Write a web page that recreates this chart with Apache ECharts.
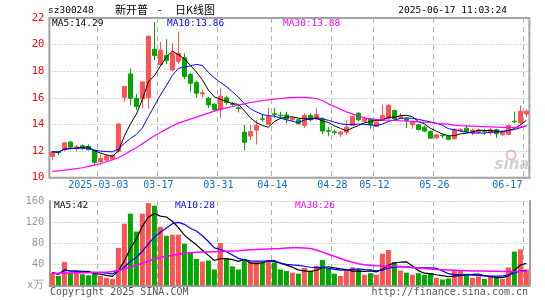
<!DOCTYPE html>
<html><head><meta charset="utf-8">
<script src="https://cdn.jsdelivr.net/npm/echarts/dist/echarts.min.js"></script>
<style>html,body{margin:0;padding:0;background:#fff}#c{width:545px;height:300px}</style>
</head><body><div id="c"></div>
<script>
const dates = ['2025-02-19','2025-02-20','2025-02-21','2025-02-24','2025-02-25','2025-02-26','2025-02-27','2025-02-28',
'2025-03-03','2025-03-04','2025-03-05','2025-03-06','2025-03-07','2025-03-10','2025-03-11','2025-03-12','2025-03-13','2025-03-14',
'2025-03-17','2025-03-18','2025-03-19','2025-03-20','2025-03-21','2025-03-24','2025-03-25','2025-03-26','2025-03-27','2025-03-28',
'2025-03-31','2025-04-01','2025-04-02','2025-04-03','2025-04-07','2025-04-08','2025-04-09','2025-04-10','2025-04-11',
'2025-04-14','2025-04-15','2025-04-16','2025-04-17','2025-04-18','2025-04-21','2025-04-22','2025-04-23','2025-04-24','2025-04-25',
'2025-04-28','2025-04-29','2025-04-30','2025-05-06','2025-05-07','2025-05-08','2025-05-09',
'2025-05-12','2025-05-13','2025-05-14','2025-05-15','2025-05-16','2025-05-19','2025-05-20','2025-05-21','2025-05-22','2025-05-23',
'2025-05-26','2025-05-27','2025-05-28','2025-05-29','2025-05-30','2025-06-03','2025-06-04','2025-06-05','2025-06-06',
'2025-06-09','2025-06-10','2025-06-11','2025-06-12','2025-06-13','2025-06-16','2025-06-17'];
const open  = [11.60,11.95,12.08,12.68,12.21,12.40,12.35,12.05,11.20,11.33,11.40,11.98,16.04,17.80,15.97,15.92,16.00,19.65,18.50,19.20,
18.10,18.75,19.02,17.75,17.15,16.30,15.97,15.52,15.10,16.00,15.55,15.25,13.42,13.13,13.58,14.42,14.02,14.80,14.70,14.72,
14.38,14.35,13.93,14.68,14.42,14.42,13.52,13.45,13.28,13.42,13.93,14.85,14.25,14.42,13.85,14.30,14.45,15.05,14.50,14.42,
13.98,13.98,13.80,13.47,13.00,13.20,13.12,12.92,13.55,13.72,13.38,13.42,13.52,13.38,13.60,13.22,13.25,14.25,14.12,14.78];
const close = [11.95,11.88,12.62,12.29,12.33,12.25,12.10,11.15,11.45,11.63,11.70,14.04,16.85,15.97,15.34,17.20,20.64,19.17,19.58,18.80,
19.33,19.35,17.60,17.10,16.35,16.38,15.47,15.10,16.12,15.65,15.50,15.20,12.66,13.46,13.91,14.38,14.59,14.75,14.64,14.42,
14.48,14.05,14.68,14.35,14.75,13.50,13.48,13.40,13.42,13.80,14.60,14.35,14.42,13.98,14.18,14.68,15.45,14.42,14.60,14.30,
14.18,13.62,13.50,12.97,13.22,13.15,12.88,13.60,13.62,13.47,13.58,13.58,13.48,13.60,13.30,13.42,13.92,14.20,15.00,15.00];
const low   = [11.35,11.70,12.00,12.13,12.00,12.10,12.05,10.95,10.95,11.25,11.30,11.90,15.71,15.47,15.09,15.20,15.20,18.85,18.35,18.55,
18.00,18.55,17.40,16.47,16.00,16.00,15.25,15.00,14.46,15.47,15.40,14.90,12.08,12.83,12.50,14.20,13.98,14.50,14.40,14.10,
14.20,13.98,13.72,14.22,14.30,13.25,13.10,13.22,13.05,13.22,13.90,14.25,14.12,13.68,13.80,14.28,14.42,14.35,14.40,13.72,
13.68,13.55,13.42,12.92,12.88,12.97,12.85,12.85,13.45,13.42,13.18,13.30,13.22,13.18,12.98,13.18,13.18,14.10,13.98,14.55];
const high  = [12.00,12.02,12.68,12.76,12.45,12.50,12.50,12.10,11.75,11.70,11.72,14.04,16.85,18.20,16.29,17.22,20.64,21.70,20.22,20.40,
20.10,20.98,19.35,17.90,17.28,16.60,16.08,15.60,16.72,16.17,15.70,15.40,13.96,13.96,14.34,14.80,15.26,15.26,14.95,14.95,
14.60,14.42,14.85,14.85,15.22,14.55,13.80,13.60,13.55,14.30,14.62,14.92,14.60,14.50,14.22,15.50,15.50,15.12,14.85,14.50,
14.20,14.05,13.92,13.55,13.25,13.30,13.18,13.72,13.72,13.92,13.68,13.68,13.68,13.72,13.68,13.55,13.98,14.98,15.42,15.12];
const volume = [24,18,44,24,25,21,19,22,18,14,12,71,117,136,102,136,156,151,111,94,96,96,79,63,50,45,47,30,80,51,36,30,
50,45,45,44,48,43,30,27,24,22,33,27,37,48,31,22,18,30,34,30,20,23,20,60,67,44,28,24,20,23,20,23,14,11,13,27,27,22,
14,17,12,17,15,12,34,64,68,30];
const ma30Price = [10.48,10.52,10.57,10.62,10.68,10.75,10.85,10.95,11.05,11.20,11.35,11.50,11.75,12.00,12.25,12.55,12.85,13.15,13.40,13.65,
13.88,14.10,14.25,14.40,14.55,14.70,14.85,15.00,15.15,15.25,15.35,15.45,15.55,15.65,15.72,15.80,15.85,15.90,15.95,16.00,
16.02,16.03,16.03,16.00,15.95,15.80,15.55,15.35,15.15,14.95,14.80,14.62,14.50,14.42,14.38,14.35,14.33,14.30,14.28,14.25,
14.23,14.20,14.18,14.15,14.08,14.05,14.02,13.95,13.92,13.90,13.88,13.86,13.84,13.82,13.80,13.78,13.76,13.78,13.82,13.88];
const ma30Vol = [23,23,23.5,23.5,24,24,24,24.5,25,25,26,28,31,35,38,42,46,50,53,55,57,59,60.5,61.5,62.5,63,63,63.5,64,64.5,
65,65.5,66.5,67.5,68,68.5,69,69.5,70,71,71.5,71.5,71,70,67,63,59,55,51,47,44,41,39,38,37,36.5,36,36,35.5,35,
34,33,32,31,30,29.5,29,28.5,28,27.5,27,27,27,26.5,26.5,26,26,26,26,26.5];
const markDates = ['2025-03-03','2025-03-17','2025-03-31','2025-04-14','2025-04-28','2025-05-12','2025-05-26','2025-06-17'];
const priceAxis = {min: 10, max: 22, interval: 2};
const volAxis = {min: 0, max: 160, interval: 40, unit: 'x万'};
const header = {code: 'sz300248', name: '新开普', dash: '-', kind: '日K线图', stamp: '2025-06-17 11:03:24'};
const priceLegend = ['MA5:14.29', 'MA10:13.86', 'MA30:13.88'];
const volLegend = ['MA5:42', 'MA10:28', 'MA30:26'];
const footer = ['Copyright 2025 SINA.COM', 'http://finance.sina.com.cn'];

function ma(arr, n) {
  return arr.map((_, i) => {
    const s = arr.slice(Math.max(0, i - n + 1), i + 1);
    return +(s.reduce((a, b) => a + b, 0) / s.length).toFixed(3);
  });
}
const UP = '#FF5252', DOWN = '#00A800';
const MONO = 'DejaVu Sans Mono';
const isMark = (i, v) => markDates.indexOf(v) >= 0;
const isMarkIdx = (i) => markDates.indexOf(dates[i]) >= 0;
const kData = dates.map((d, i) => [open[i], close[i], low[i], high[i]]);
const volData = volume.map((v, i) => ({value: v, itemStyle: {color: close[i] >= open[i] ? UP : DOWN}}));
const vsplit = {show: true, interval: (i) => isMarkIdx(i), lineStyle: {color: '#b0b0b0', type: [5, 4], width: 1}};
const hsplit = {show: true, lineStyle: {color: '#b0b0b0', type: [1, 2], width: 1}};
const frame = {color: '#a0a0a0', width: 2};

const chart = echarts.init(document.getElementById('c'), null, {renderer: 'canvas'});
const txt = (x, y, text, color, opts) => Object.assign({type: 'text', x, y, style: Object.assign({text, fill: color, font: '9.5px "' + MONO + '"', textVerticalAlign: 'middle'}, opts || {})});
chart.setOption({
  animation: false,
  grid: [
    {left: 49.4, top: 18, width: 480, height: 159.7, show: true, borderColor: frame.color, borderWidth: frame.width, backgroundColor: 'transparent'},
    {left: 49.4, top: 201, width: 480, height: 84.3}
  ],
  xAxis: [
    {type: 'category', gridIndex: 0, data: dates, boundaryGap: true, axisLine: {show: false}, axisTick: {show: false},
     axisLabel: {interval: isMark, formatter: v => v === markDates[0] ? v : v.slice(5), color: '#1070c8', fontFamily: MONO, fontSize: 10, margin: 3, padding: [0, 4, 0, 0], alignMaxLabel: 'right'},
     splitLine: vsplit},
    {type: 'category', gridIndex: 1, data: dates, boundaryGap: true, position: 'top', axisLine: {show: true, lineStyle: frame}, axisTick: {show: false},
     axisLabel: {show: false}, splitLine: vsplit}
  ],
  yAxis: [
    {type: 'value', gridIndex: 0, min: priceAxis.min, max: priceAxis.max, interval: priceAxis.interval, axisLine: {show: false}, axisTick: {show: false},
     axisLabel: {color: '#ff0000', fontFamily: MONO, fontSize: 10.5, margin: 5}, splitLine: hsplit},
    {type: 'value', gridIndex: 1, min: volAxis.min, max: volAxis.max, interval: volAxis.interval, axisLine: {show: true, lineStyle: frame}, axisTick: {show: false},
     axisLabel: {color: '#999999', fontFamily: MONO, fontSize: 10.5, margin: 5, formatter: v => v === 0 ? volAxis.unit : String(v)}, splitLine: hsplit},
    {type: 'value', gridIndex: 1, position: 'right', min: volAxis.min, max: volAxis.max, axisLine: {show: true, lineStyle: frame}, axisTick: {show: false},
     axisLabel: {show: false}, splitLine: {show: false}}
  ],
  series: [
    {type: 'candlestick', xAxisIndex: 0, yAxisIndex: 0, data: kData, barWidth: 5,
     itemStyle: {color: UP, color0: DOWN, borderColor: UP, borderColor0: DOWN, borderWidth: 1}},
    {type: 'line', xAxisIndex: 0, yAxisIndex: 0, data: ma(close, 5), symbol: 'none', lineStyle: {color: '#000', width: 1}},
    {type: 'line', xAxisIndex: 0, yAxisIndex: 0, data: ma(close, 10), symbol: 'none', lineStyle: {color: '#0000ff', width: 1}},
    {type: 'line', xAxisIndex: 0, yAxisIndex: 0, data: ma30Price, symbol: 'none', lineStyle: {color: '#ff00ff', width: 1.2}},
    {type: 'bar', xAxisIndex: 1, yAxisIndex: 1, data: volData, barWidth: 5},
    {type: 'line', xAxisIndex: 1, yAxisIndex: 1, data: ma(volume, 5), symbol: 'none', lineStyle: {color: '#000', width: 1.2}},
    {type: 'line', xAxisIndex: 1, yAxisIndex: 1, data: ma(volume, 10), symbol: 'none', lineStyle: {color: '#0000ff', width: 1.2}},
    {type: 'line', xAxisIndex: 1, yAxisIndex: 1, data: ma30Vol, symbol: 'none', lineStyle: {color: '#ff00ff', width: 1.5}}
  ],
  graphic: [
    txt(48, 10.5, header.code, '#000'),
    txt(115, 10, header.name, '#000', {font: '11px "Noto Sans CJK SC"'}),
    txt(160, 10, header.dash, '#000', {font: '11px "Noto Sans CJK SC"', textAlign: 'center'}),
    txt(175, 10, header.kind, '#000', {font: '11px "Noto Sans CJK SC"'}),
    txt(507, 10.5, header.stamp, '#000', {textAlign: 'right'}),
    txt(52, 23.5, priceLegend[0], '#000'),
    txt(167, 23.5, priceLegend[1], '#0000ff'),
    txt(283, 23.5, priceLegend[2], '#ff00ff'),
    txt(54, 206, volLegend[0], '#000'),
    txt(175, 206, volLegend[1], '#0000ff'),
    txt(295, 206, volLegend[2], '#ff00ff'),
    txt(50, 292.5, footer[0], '#555', {font: '10px "' + MONO + '"'}),
    txt(528, 292.5, footer[1], '#555', {font: '10px "' + MONO + '"', textAlign: 'right'}),
    {type: 'circle', shape: {cx: 511, cy: 155, r: 4.5}, style: {fill: 'none', stroke: '#f4b8b8', lineWidth: 2}, silent: true},
    txt(512, 165, 'sina', '#d0d0d0', {font: 'italic bold 15px "DejaVu Sans"', textAlign: 'center'})
  ]
});
</script></body></html>
